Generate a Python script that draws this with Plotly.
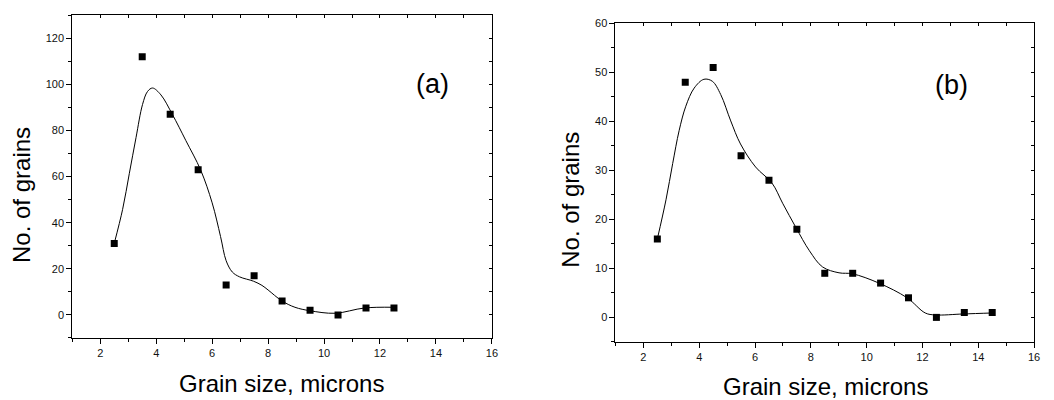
import plotly.graph_objects as go

# ---- data ----
size_a = [2.5, 3.5, 4.5, 5.5, 6.5, 7.5, 8.5, 9.5, 10.5, 11.5, 12.5]
grains_a = [31, 112, 87, 63, 13, 17, 6, 2, 0, 3, 3]
size_b = [2.5, 3.5, 4.5, 5.5, 6.5, 7.5, 8.5, 9.5, 10.5, 11.5, 12.5, 13.5, 14.5]
grains_b = [16, 48, 51, 33, 28, 18, 9, 9, 7, 4, 0, 1, 1]

# fitted curves
fit_x_a = [2.5, 2.8, 3.04, 3.28, 3.51, 3.69, 3.87, 4.17, 4.58, 5.06, 5.59, 6.0, 6.3,
           6.5, 6.72, 6.98, 7.48, 7.78, 8.0, 8.49, 8.96, 9.5, 10.39, 11.45, 12.5]
fit_y_a = [31, 45.8, 61.4, 77, 91.2, 96.9, 98.4, 95.4, 86.9, 75.6, 62.8, 48.6, 34,
           23.5, 18.6, 16.5, 14.6, 12.8, 10.8, 6.1, 3.3, 1.8, 0.7, 3.0, 3.3]
fit_x_b = [2.5, 2.81, 3.05, 3.28, 3.52, 3.82, 4.17, 4.47, 4.77, 5.13, 5.48, 6.02, 6.61,
           6.99, 7.47, 7.95, 8.42, 9.01, 9.49, 10.44, 11.45, 12.1, 12.46, 13.47, 14.5]
fit_y_b = [16, 24, 31.4, 38.1, 43.1, 46.8, 48.6, 48.2, 45.5, 40.1, 35.4, 30.7, 27.4,
           23.3, 18.3, 13.6, 10.3, 9.1, 8.9, 7.0, 4.0, 0.9, 0.5, 0.7, 0.9]

x_ticks = [2, 4, 6, 8, 10, 12, 14, 16]
y_ticks_a = [0, 20, 40, 60, 80, 100, 120]
y_ticks_b = [0, 10, 20, 30, 40, 50, 60]
labels = ["(a)", "(b)"]
x_title = "Grain size, microns"
y_title = "No. of grains"

FONT = "Liberation Sans, Arial, sans-serif"
fig = go.Figure()

def add_panel(n, xs, ys, fx, fy):
    xa = "x" if n == 1 else f"x{n}"
    ya = "y" if n == 1 else f"y{n}"
    fig.add_trace(go.Scatter(x=fx, y=fy, mode="lines", line=dict(color="black", width=1, shape="spline", smoothing=1.0),
                             xaxis=xa, yaxis=ya, showlegend=False, hoverinfo="skip"))
    fig.add_trace(go.Scatter(x=xs, y=ys, mode="markers", marker=dict(symbol="square", size=7, color="black"),
                             xaxis=xa, yaxis=ya, showlegend=False))

add_panel(1, size_a, grains_a, fit_x_a, fit_y_a)
add_panel(2, size_b, grains_b, fit_x_b, fit_y_b)
# invisible traces for mirror-tick axes
fig.add_trace(go.Scatter(x=[None], y=[None], xaxis="x3", yaxis="y3", showlegend=False, hoverinfo="skip"))
fig.add_trace(go.Scatter(x=[None], y=[None], xaxis="x4", yaxis="y4", showlegend=False, hoverinfo="skip"))

W, H = 1054, 400
dom_a_x = [72.7 / W, 494.7 / W]
dom_a_y = [1 - 337 / H, 1 - 9.3 / H]
dom_b_x = [619 / W, 1040 / W]
dom_b_y = [1 - 341 / H, 1 - 17.7 / H]

tickfont = dict(family=FONT, size=11, color="#111")

def main_x(dom, anchor):
    return dict(domain=dom, anchor=anchor, range=[1, 16], tickvals=x_ticks, ticks="outside", ticklen=5,
                tickcolor="black", tickwidth=1, showline=True, linecolor="black", linewidth=1, mirror=True,
                showgrid=False, zeroline=False, tickfont=tickfont,
                minor=dict(ticks="outside", dtick=1, tick0=1, ticklen=3, tickcolor="black", showgrid=False))

def main_y(dom, anchor, rng, tv, minor_dt):
    return dict(domain=dom, anchor=anchor, range=rng, tickvals=tv, ticks="outside", ticklen=5,
                tickcolor="black", tickwidth=1, showline=True, linecolor="black", linewidth=1, mirror=True,
                showgrid=False, zeroline=False, tickfont=tickfont,
                minor=dict(ticks="outside", dtick=minor_dt, tick0=0, ticklen=3, tickcolor="black", showgrid=False))

def top_x(overlay, anchor):
    return dict(overlaying=overlay, anchor=anchor, side="top", range=[1, 16], dtick=1, tick0=1,
                ticks="inside", ticklen=3, tickcolor="black", showticklabels=False, showline=False,
                showgrid=False, zeroline=False)

def right_y(overlay, anchor, rng, dt):
    return dict(overlaying=overlay, anchor=anchor, side="right", range=rng, dtick=dt, tick0=0,
                ticks="inside", ticklen=3, tickcolor="black", showticklabels=False, showline=False,
                showgrid=False, zeroline=False)

fig.update_layout(
    width=W, height=H, margin=dict(l=0, r=0, t=0, b=0),
    paper_bgcolor="white", plot_bgcolor="white",
    xaxis=main_x(dom_a_x, "y"),
    yaxis=main_y(dom_a_y, "x", [-10, 130], y_ticks_a, 10),
    xaxis2=main_x(dom_b_x, "y2"),
    yaxis2=main_y(dom_b_y, "x2", [-5, 60], y_ticks_b, 5),
    xaxis3=top_x("x", "y3"),
    yaxis3=right_y("y", "x3", [-10, 130], 10),
    xaxis4=top_x("x2", "y4"),
    yaxis4=right_y("y2", "x4", [-5, 60], 5),
    annotations=[
        dict(text=x_title, x=283 / W, y=1 - 383 / H, xref="paper", yref="paper", showarrow=False,
             font=dict(family=FONT, size=24, color="black"), xanchor="center", yanchor="middle"),
        dict(text=x_title, x=830 / W, y=1 - 386 / H, xref="paper", yref="paper", showarrow=False,
             font=dict(family=FONT, size=24, color="black"), xanchor="center", yanchor="middle"),
        dict(text=y_title, x=21 / W, y=1 - 192 / H, xref="paper", yref="paper", showarrow=False, textangle=-90,
             font=dict(family=FONT, size=24, color="black"), xanchor="center", yanchor="middle"),
        dict(text=y_title, x=573 / W, y=1 - 197 / H, xref="paper", yref="paper", showarrow=False, textangle=-90,
             font=dict(family=FONT, size=24, color="black"), xanchor="center", yanchor="middle"),
        dict(text=labels[0], x=435 / W, y=1 - 79 / H, xref="paper", yref="paper", showarrow=False,
             font=dict(family=FONT, size=27, color="black"), xanchor="center", yanchor="middle"),
        dict(text=labels[1], x=957 / W, y=1 - 80 / H, xref="paper", yref="paper", showarrow=False,
             font=dict(family=FONT, size=27, color="black"), xanchor="center", yanchor="middle"),
    ],
)

fig.write_html("out.html", config={"displayModeBar": False},
               post_script="document.body.style.margin='0';document.body.style.overflow='hidden';")
